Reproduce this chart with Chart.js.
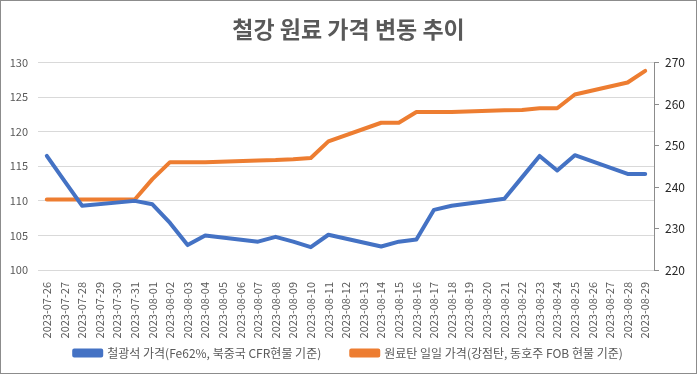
<!DOCTYPE html>
<html>
<head>
<meta charset="utf-8">
<script src="https://cdn.jsdelivr.net/npm/chart.js@4"></script>
<style>
  html, body { margin: 0; padding: 0; background: #fff; }
  #wrap { width: 697px; height: 374px; }
</style>
</head>
<body>
<div id="wrap"><canvas id="chart"></canvas></div>
<script>
const dates = [
  '2023-07-26', '2023-07-27', '2023-07-28', '2023-07-29', '2023-07-30', '2023-07-31',
  '2023-08-01', '2023-08-02', '2023-08-03', '2023-08-04', '2023-08-05', '2023-08-06',
  '2023-08-07', '2023-08-08', '2023-08-09', '2023-08-10', '2023-08-11', '2023-08-12',
  '2023-08-13', '2023-08-14', '2023-08-15', '2023-08-16', '2023-08-17', '2023-08-18',
  '2023-08-19', '2023-08-20', '2023-08-21', '2023-08-22', '2023-08-23', '2023-08-24',
  '2023-08-25', '2023-08-26', '2023-08-27', '2023-08-28', '2023-08-29'
]

// 철광석 (left axis), weekends empty
const ironOre = [
  116.5, 112.9, 109.3, null, null, 110.0,
  109.5, 106.8, 103.6, 105.0, null, null,
  104.1, 104.8, 104.1, 103.3, 105.1, null,
  null, 103.4, 104.1, 104.4, 108.7, 109.3,
  null, null, 110.3, 113.4, 116.5, 114.4,
  116.6, null, null, 113.9, 113.9
]

// 원료탄 (right axis)
const cokingCoal = [
  237.0, 237.0, 237.0, null, null, 237.0,
  241.9, 246.0, 246.0, 246.0, null, null,
  246.4, 246.5, 246.7, 247.0, 251.0, null,
  null, 255.5, 255.5, 258.1, 258.1, 258.1,
  null, null, 258.5, 258.6, 259.0, 259.0,
  262.3, null, null, 265.2, 268.0
]

const leftTicks = [100, 130, 5]
const rightTicks = [220, 270, 10]

const FONT = "'Noto Sans CJK KR', 'Noto Sans', sans-serif"
const GREY_TEXT = '#595959'

const frame = {
  id: 'frame',
  beforeDraw(chart) {
    const ctx = chart.ctx
    ctx.save()
    ctx.fillStyle = '#fff'
    ctx.fillRect(0, 0, chart.width, chart.height)
    ctx.restore()
    // let the date labels run past the axis box, down to the legend
    chart.scales.x._computeLabelArea = () => undefined
  },
  afterDraw(chart) {
    const ctx = chart.ctx
    ctx.save()
    ctx.strokeStyle = '#8c8c8c'
    ctx.lineWidth = 1
    ctx.strokeRect(0.5, 0.5, chart.width - 1, chart.height - 1)
    ctx.restore()
  }
}

new Chart(document.getElementById('chart').getContext('2d'), {
  type: 'line',
  data: {
    labels: dates,
    datasets: [
      {
        label: '철광석 가격(Fe62%, 북중국 CFR현물 기준)',
        data: ironOre,
        yAxisID: 'y',
        borderColor: '#4472C4',
        backgroundColor: '#4472C4',
        borderWidth: 4,
        pointRadius: 0,
        borderJoinStyle: 'round',
        borderCapStyle: 'round',
        spanGaps: true,
        tension: 0
      },
      {
        label: '원료탄 일일 가격(강점탄, 동호주 FOB 현물 기준)',
        data: cokingCoal,
        yAxisID: 'y1',
        borderColor: '#ED7D31',
        backgroundColor: '#ED7D31',
        borderWidth: 4,
        pointRadius: 0,
        borderJoinStyle: 'round',
        borderCapStyle: 'round',
        spanGaps: true,
        tension: 0
      }
    ]
  },
  options: {
    responsive: true,
    maintainAspectRatio: false,
    animation: false,
    layout: { padding: { top: 0, bottom: 5, left: 0, right: 0 } },
    plugins: {
      title: {
        display: true,
        text: '철강 원료 가격 변동 추이',
        color: GREY_TEXT,
        font: { family: FONT, size: 23, weight: 'bold' },
        padding: { top: 15, bottom: 20 }
      },
      legend: {
        position: 'bottom',
        labels: {
          color: GREY_TEXT,
          font: { family: FONT, size: 12 },
          boxWidth: 27,
          boxHeight: 5,
          padding: 30
        }
      },
      tooltip: { enabled: false }
    },
    scales: {
      x: {
        offset: true,
        grid: { display: false },
        border: { color: '#d9d9d9' },
        ticks: {
          color: GREY_TEXT,
          font: { family: FONT, size: 11 },
          minRotation: 90,
          maxRotation: 90,
          autoSkip: false,
          padding: 4
        },
        afterFit(scale) { scale.height = 47 }
      },
      y: {
        position: 'left',
        min: leftTicks[0],
        max: leftTicks[1],
        grid: { color: '#d9d9d9', drawTicks: false },
        border: { display: false },
        ticks: {
          stepSize: leftTicks[2],
          color: GREY_TEXT,
          font: { family: FONT, size: 11 },
          padding: 10
        },
        afterFit(scale) { scale.width = 38 }
      },
      y1: {
        position: 'right',
        min: rightTicks[0],
        max: rightTicks[1],
        grid: { drawOnChartArea: false, color: '#8c8c8c', tickLength: 5 },
        border: { display: true, color: '#8c8c8c' },
        ticks: {
          stepSize: rightTicks[2],
          color: '#262626',
          font: { family: FONT, size: 12 },
          padding: 6
        },
        afterFit(scale) { scale.width = 43 }
      }
    }
  },
  plugins: [frame]
})
</script>
</body>
</html>
